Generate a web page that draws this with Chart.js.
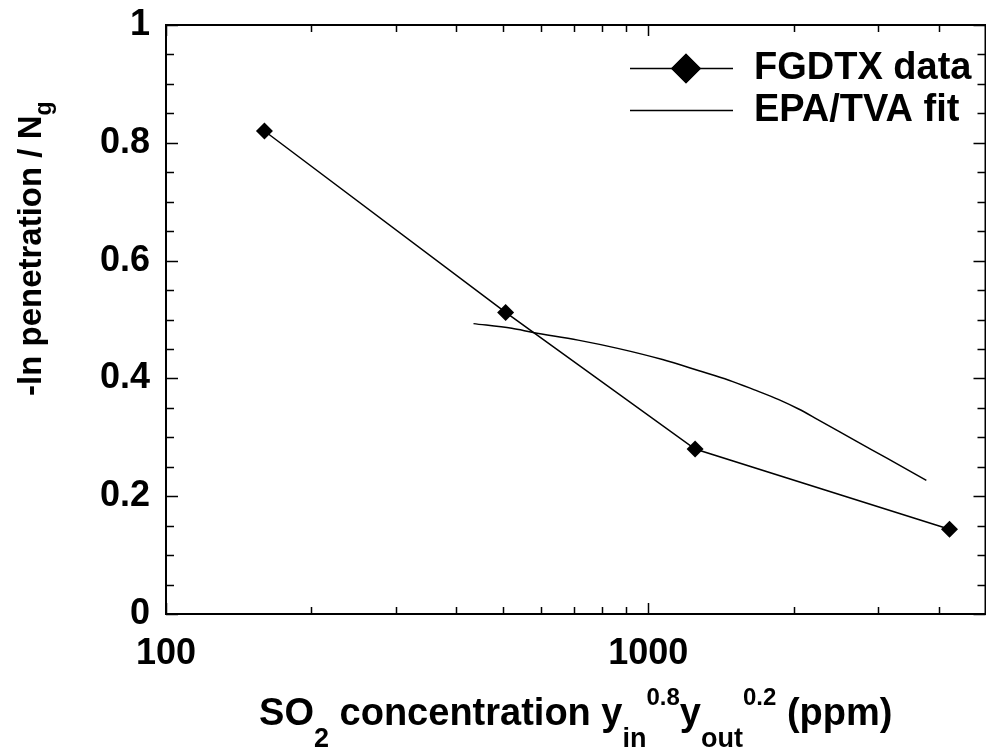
<!DOCTYPE html>
<html><head><meta charset="utf-8">
<script src="https://cdn.jsdelivr.net/npm/chart.js@4/dist/chart.umd.min.js"></script>
<style>html,body{margin:0;padding:0;background:#fff;overflow:hidden;} #wrap{width:986px;height:750px;overflow:hidden;position:relative;}</style>
</head><body><div id="wrap"><canvas id="c" width="994" height="750"></canvas></div>
<script>
// ---- data ----
const seriesNames = ['FGDTX data', 'EPA/TVA fit'];
const fgdtxX = [160, 506, 1250, 4210];
const fgdtxY = [0.820, 0.512, 0.280, 0.144];
const fitX = [434, 521, 577, 715, 864, 1070, 1274, 1469, 1654, 1864, 2049, 2236, 2703, 3116, 3770];
const fitY = [0.493, 0.485, 0.478, 0.465, 0.451, 0.432, 0.413, 0.397, 0.381, 0.364, 0.348, 0.331, 0.293, 0.265, 0.227];
const xMajorTicks = [100, 1000];
const xMinorTicks = [200, 300, 400, 500, 600, 700, 800, 900, 2000, 3000, 4000];
const yMajorTicks = [0, 0.2, 0.4, 0.6, 0.8, 1];
const yMinorTicks = [0.05, 0.1, 0.15, 0.25, 0.3, 0.35, 0.45, 0.5, 0.55, 0.65, 0.7, 0.75, 0.85, 0.9, 0.95];
const xTitleParts = [
  {t: 'SO', k: 'main'}, {t: '2', k: 'sub'}, {t: ' concentration y', k: 'main'},
  {t: 'in', k: 'sub'}, {t: '0.8', k: 'sup'}, {t: 'y', k: 'main'},
  {t: 'out', k: 'sub'}, {t: '0.2', k: 'sup'}, {t: ' (ppm)', k: 'main'}
];
const yTitleParts = [{t: '-ln penetration / N', k: 'main'}, {t: 'g', k: 'sub'}];

const FONT = '"Liberation Sans", Arial, Helvetica, sans-serif';

function measureRich(ctx, parts, styles) {
  let w = 0;
  parts.forEach(p => { const s = styles[p.k]; ctx.font = 'bold ' + s.size + 'px ' + FONT; p.w = ctx.measureText(p.t).width; w += p.w; });
  return w;
}
function renderRich(ctx, parts, styles, x, y) {
  let cx = x;
  parts.forEach(p => {
    const s = styles[p.k];
    ctx.font = 'bold ' + s.size + 'px ' + FONT;
    ctx.fillText(p.t, cx, y + s.dy);
    cx += p.w;
  });
}

const decor = {
  id: 'decor',
  afterDraw(chart) {
    const ctx = chart.ctx, a = chart.chartArea;
    const xs = chart.scales.x, ys = chart.scales.y;
    ctx.save();
    ctx.strokeStyle = '#000';
    ctx.fillStyle = '#000';
    // frame
    ctx.lineWidth = 2;
    ctx.strokeRect(a.left, a.top, a.right - a.left, a.bottom - a.top);
    // ticks
    ctx.lineWidth = 1.5;
    ctx.beginPath();
    const xt = (v, len) => {
      const px = Math.round(xs.getPixelForValue(v)) + 0.5;
      ctx.moveTo(px, a.bottom); ctx.lineTo(px, a.bottom - len);
      ctx.moveTo(px, a.top); ctx.lineTo(px, a.top + len);
    };
    const yt = (v, len) => {
      const py = Math.round(ys.getPixelForValue(v)) + 0.5;
      ctx.moveTo(a.left, py); ctx.lineTo(a.left + len, py);
      ctx.moveTo(a.right, py); ctx.lineTo(a.right - len, py);
    };
    xMajorTicks.forEach(v => xt(v, 11));
    xMinorTicks.forEach(v => xt(v, 7));
    yMajorTicks.forEach(v => yt(v, 12));
    yMinorTicks.forEach(v => yt(v, 8));
    ctx.stroke();

    // x title
    ctx.textAlign = 'left';
    ctx.textBaseline = 'alphabetic';
    const xStyles = {main: {size: 38, dy: 0}, sub: {size: 27, dy: 22}, sup: {size: 24, dy: -20}};
    const wx = measureRich(ctx, xTitleParts, xStyles);
    renderRich(ctx, xTitleParts, xStyles, (a.left + a.right) / 2 - wx / 2, 725);

    // y title (rotated)
    const yStyles = {main: {size: 33, dy: 0}, sub: {size: 23, dy: 10}};
    measureRich(ctx, yTitleParts, yStyles);
    ctx.save();
    ctx.translate(41, 396);
    ctx.rotate(-Math.PI / 2);
    renderRich(ctx, yTitleParts, yStyles, 0, 0);
    ctx.restore();

    // legend
    const rows = [
      {y: 68, marker: true, label: chart.data.datasets[0].label},
      {y: 110, marker: false, label: chart.data.datasets[1].label}
    ];
    rows.forEach(r => {
      ctx.lineWidth = 1.5;
      ctx.beginPath();
      ctx.moveTo(630, r.y + 0.5); ctx.lineTo(733, r.y + 0.5);
      ctx.stroke();
      if (r.marker) {
        Chart.helpers.drawPoint(ctx, {pointStyle: 'rectRot', radius: 15, rotation: 0, borderWidth: 0}, 686, r.y + 0.5);
        ctx.fill();
      }
      ctx.font = 'bold 38px ' + FONT;
      ctx.textBaseline = 'middle';
      ctx.fillText(r.label, 754, r.y + 1);
    });
    ctx.restore();
  }
};

new Chart(document.getElementById('c'), {
  type: 'scatter',
  data: {
    datasets: [
      {
        label: seriesNames[0],
        data: fgdtxX.map((x, i) => ({x: x, y: fgdtxY[i]})),
        showLine: true,
        borderColor: '#000',
        backgroundColor: '#000',
        borderWidth: 1.5,
        pointStyle: 'rectRot',
        pointRadius: 8.5,
        pointBorderWidth: 0,
        pointBackgroundColor: '#000'
      },
      {
        label: seriesNames[1],
        data: fitX.map((x, i) => ({x: x, y: fitY[i]})),
        showLine: true,
        borderColor: '#000',
        borderWidth: 1.5,
        pointRadius: 0,
        cubicInterpolationMode: 'monotone'
      }
    ]
  },
  options: {
    responsive: false,
    animation: false,
    devicePixelRatio: 1,
    layout: {padding: {top: 25, right: 4, left: 0, bottom: 0}},
    plugins: {legend: {display: false}, tooltip: {enabled: false}},
    scales: {
      x: {
        type: 'logarithmic',
        position: 'bottom',
        min: 100, max: 5000,
        grid: {display: false, drawTicks: false},
        border: {display: false},
        afterBuildTicks: s => { s.ticks = xMajorTicks.map(v => ({value: v, major: true})); },
        afterFit: s => { s.height = 136; s.paddingLeft = 0; s.paddingRight = 0; },
        ticks: {
          autoSkip: false, maxRotation: 0, padding: 18, color: '#000',
          font: {family: FONT, size: 36, weight: 'bold'},
          callback: v => String(v)
        }
      },
      y: {
        type: 'linear',
        min: 0, max: 1,
        grid: {display: false, drawTicks: false},
        border: {display: false},
        afterFit: s => { s.width = 166; s.paddingTop = 0; s.paddingBottom = 0; },
        ticks: {
          stepSize: 0.2, padding: 16, color: '#000',
          font: {family: FONT, size: 36, weight: 'bold'},
          callback: v => String(parseFloat(Number(v).toFixed(2)))
        }
      }
    }
  },
  plugins: [decor]
});
</script>
</body></html>
